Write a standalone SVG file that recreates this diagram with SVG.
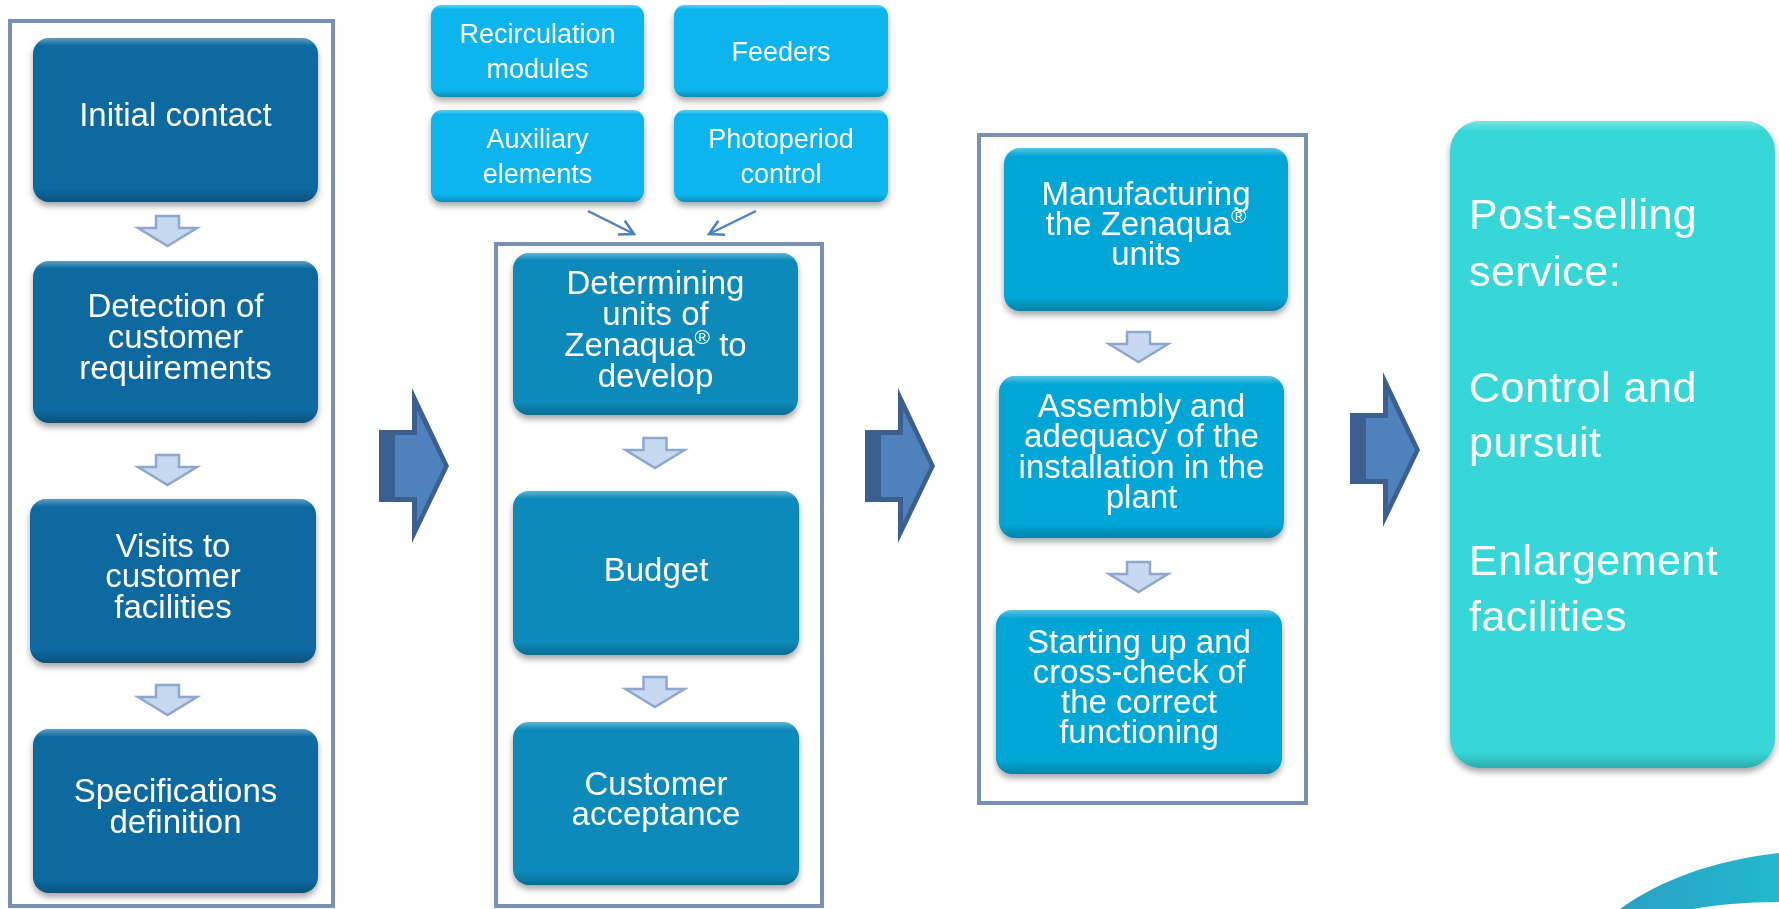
<svg xmlns="http://www.w3.org/2000/svg" width="1779" height="909" viewBox="0 0 1779 909">
<style>
.frame{fill:#fff;stroke:#7990b3;stroke-width:4}
.b1{fill:#0969a0}.b2{fill:#0889ba}.b3{fill:#05a6d6}.b4{fill:#09b5ee}.b5{fill:#38d7d7}
.bev{fill:url(#bevel)}
.t{font-family:"Liberation Sans",Arial,sans-serif;font-size:33px;fill:#fff;text-anchor:middle}
.ts{font-family:"Liberation Sans",Arial,sans-serif;font-size:27px;fill:#fff;text-anchor:middle}
.tr{font-family:"Liberation Sans",Arial,sans-serif;font-size:43px;fill:#fff;letter-spacing:0.5px}
.darr{fill:#c6d9f0;stroke:#8ea7cc;stroke-width:2.5;stroke-linejoin:miter}
.thin{stroke:#4f81bd;stroke-width:2.5;fill:none}
.bigd{fill:#3b5f8f}.bigl{fill:#4f81bd}
</style>
<defs>
<linearGradient id="bevel" x1="0" y1="0" x2="0" y2="1">
<stop offset="0" stop-color="#fff" stop-opacity="0.35"/>
<stop offset="0.05" stop-color="#fff" stop-opacity="0"/>
<stop offset="0.92" stop-color="#000" stop-opacity="0"/>
<stop offset="1" stop-color="#000" stop-opacity="0.22"/>
</linearGradient>
<linearGradient id="bevel2" x1="0" y1="0" x2="0" y2="1">
<stop offset="0" stop-color="#fff" stop-opacity="0.35"/>
<stop offset="0.015" stop-color="#fff" stop-opacity="0"/>
<stop offset="0.975" stop-color="#000" stop-opacity="0"/>
<stop offset="1" stop-color="#000" stop-opacity="0.2"/>
</linearGradient>
<linearGradient id="sw" x1="0" y1="0" x2="1" y2="0">
<stop offset="0" stop-color="#2aa0c3"/>
<stop offset="1" stop-color="#22b8cd"/>
</linearGradient>
<filter id="sh" x="-10%" y="-10%" width="120%" height="130%">
<feDropShadow dx="0" dy="4" stdDeviation="3" flood-color="#000" flood-opacity="0.35"/>
</filter>
<path id="down" d="M-11.5,0 H11.5 V12 H29.5 L0,30 L-29.5,12 H-11.5 Z"/>
<marker id="open" viewBox="0 0 14 14" refX="12" refY="7" markerWidth="18" markerHeight="18" markerUnits="userSpaceOnUse" orient="auto">
<path d="M1,1 L12,7 L1,13" fill="none" stroke="#4f81bd" stroke-width="2"/>
</marker>
</defs>

<rect width="1779" height="909" fill="#fff"/>

<!-- containers -->
<g id="container1"><rect class="frame" x="10" y="21" width="323" height="885"/></g>
<g id="container2"><rect class="frame" x="496" y="244" width="326" height="662"/></g>
<g id="container3"><rect class="frame" x="979" y="135" width="327" height="668"/></g>

<!-- left column -->
<g id="initial-contact" filter="url(#sh)">
<rect class="b1" x="33" y="38" width="285" height="164" rx="16"/>
<rect class="bev" x="33" y="38" width="285" height="164" rx="16"/>
<text class="t" x="175.5" y="126">Initial contact</text>
</g>
<g id="detection" filter="url(#sh)">
<rect class="b1" x="33" y="261" width="285" height="162" rx="16"/>
<rect class="bev" x="33" y="261" width="285" height="162" rx="16"/>
<text class="t" x="175.5" y="317">Detection of</text>
<text class="t" x="175.5" y="348">customer</text>
<text class="t" x="175.5" y="379">requirements</text>
</g>
<g id="visits" filter="url(#sh)">
<rect class="b1" x="30" y="499" width="286" height="164" rx="16"/>
<rect class="bev" x="30" y="499" width="286" height="164" rx="16"/>
<text class="t" x="173" y="556.5">Visits to</text>
<text class="t" x="173" y="587">customer</text>
<text class="t" x="173" y="617.5">facilities</text>
</g>
<g id="specifications" filter="url(#sh)">
<rect class="b1" x="33" y="729" width="285" height="164" rx="16"/>
<rect class="bev" x="33" y="729" width="285" height="164" rx="16"/>
<text class="t" x="175.5" y="802">Specifications</text>
<text class="t" x="175.5" y="833">definition</text>
</g>

<!-- top small boxes -->
<g id="recirculation" filter="url(#sh)">
<rect class="b4" x="431" y="5" width="213" height="92" rx="11"/>
<rect class="bev" x="431" y="5" width="213" height="92" rx="11"/>
<text class="ts" x="537.5" y="43">Recirculation</text>
<text class="ts" x="537.5" y="78">modules</text>
</g>
<g id="feeders" filter="url(#sh)">
<rect class="b4" x="674" y="5" width="214" height="92" rx="11"/>
<rect class="bev" x="674" y="5" width="214" height="92" rx="11"/>
<text class="ts" x="781" y="61">Feeders</text>
</g>
<g id="auxiliary" filter="url(#sh)">
<rect class="b4" x="431" y="110" width="213" height="92" rx="11"/>
<rect class="bev" x="431" y="110" width="213" height="92" rx="11"/>
<text class="ts" x="537.5" y="148">Auxiliary</text>
<text class="ts" x="537.5" y="183">elements</text>
</g>
<g id="photoperiod" filter="url(#sh)">
<rect class="b4" x="674" y="110" width="214" height="92" rx="11"/>
<rect class="bev" x="674" y="110" width="214" height="92" rx="11"/>
<text class="ts" x="781" y="148">Photoperiod</text>
<text class="ts" x="781" y="183">control</text>
</g>

<!-- middle column -->
<g id="determining" filter="url(#sh)">
<rect class="b2" x="513" y="253" width="285" height="162" rx="16"/>
<rect class="bev" x="513" y="253" width="285" height="162" rx="16"/>
<text class="t" x="655.5" y="294">Determining</text>
<text class="t" x="655.5" y="325">units of</text>
<text class="t" x="655.5" y="356">Zenaqua<tspan font-size="21" dy="-12">®</tspan><tspan dy="12"> to</tspan></text>
<text class="t" x="655.5" y="387">develop</text>
</g>
<g id="budget" filter="url(#sh)">
<rect class="b2" x="513" y="491" width="286" height="164" rx="16"/>
<rect class="bev" x="513" y="491" width="286" height="164" rx="16"/>
<text class="t" x="656" y="581">Budget</text>
</g>
<g id="acceptance" filter="url(#sh)">
<rect class="b2" x="513" y="722" width="286" height="163" rx="16"/>
<rect class="bev" x="513" y="722" width="286" height="163" rx="16"/>
<text class="t" x="656" y="795">Customer</text>
<text class="t" x="656" y="825">acceptance</text>
</g>

<!-- third column -->
<g id="manufacturing" filter="url(#sh)">
<rect class="b3" x="1004" y="148" width="284" height="163" rx="16"/>
<rect class="bev" x="1004" y="148" width="284" height="163" rx="16"/>
<text class="t" x="1146" y="205">Manufacturing</text>
<text class="t" x="1146" y="235">the Zenaqua<tspan font-size="21" dy="-12">®</tspan></text>
<text class="t" x="1146" y="265">units</text>
</g>
<g id="assembly" filter="url(#sh)">
<rect class="b3" x="999" y="376" width="285" height="162" rx="16"/>
<rect class="bev" x="999" y="376" width="285" height="162" rx="16"/>
<text class="t" x="1141.5" y="417">Assembly and</text>
<text class="t" x="1141.5" y="447">adequacy of the</text>
<text class="t" x="1141.5" y="478">installation in the</text>
<text class="t" x="1141.5" y="508">plant</text>
</g>
<g id="starting" filter="url(#sh)">
<rect class="b3" x="996" y="610" width="286" height="164" rx="16"/>
<rect class="bev" x="996" y="610" width="286" height="164" rx="16"/>
<text class="t" x="1139" y="653">Starting up and</text>
<text class="t" x="1139" y="683">cross-check of</text>
<text class="t" x="1139" y="713">the correct</text>
<text class="t" x="1139" y="743">functioning</text>
</g>

<!-- post-selling -->
<g id="post-selling" filter="url(#sh)">
<rect class="b5" x="1450" y="121" width="325" height="647" rx="30"/>
<rect fill="url(#bevel2)" x="1450" y="121" width="325" height="647" rx="30"/>
<text class="tr" x="1469" y="229">Post-selling</text>
<text class="tr" x="1469" y="286">service:</text>
<text class="tr" x="1469" y="402">Control and</text>
<text class="tr" x="1469" y="457">pursuit</text>
<text class="tr" x="1469" y="575">Enlargement</text>
<text class="tr" x="1469" y="631">facilities</text>
</g>

<!-- connectors -->
<g id="connectors">
<use href="#down" class="darr" x="167.5" y="216"/>
<use href="#down" class="darr" x="167.5" y="455"/>
<use href="#down" class="darr" x="167.5" y="685"/>
<use href="#down" class="darr" x="655" y="438"/>
<use href="#down" class="darr" x="655" y="677"/>
<use href="#down" class="darr" x="1138.5" y="332"/>
<use href="#down" class="darr" x="1138.5" y="562"/>
<line class="thin" x1="588" y1="211" x2="634" y2="234" marker-end="url(#open)"/>
<line class="thin" x1="756" y1="211" x2="709" y2="234" marker-end="url(#open)"/>
<g id="big-arrow-1">
<polygon class="bigd" points="379,430 412,430 412,388 449,466 412,543 412,502 379,502"/>
<polygon class="bigl" points="395,435 417,435 417,410 444,466 417,522 417,497 395,497"/>
</g>
<g id="big-arrow-2">
<polygon class="bigd" points="865,430 898,430 898,388 935,466 898,543 898,502 865,502"/>
<polygon class="bigl" points="881,435 903,435 903,410 930,466 903,522 903,497 881,497"/>
</g>
<g id="big-arrow-3">
<polygon class="bigd" points="1350,413 1383,413 1383,372 1420,450 1383,527 1383,484 1350,484"/>
<polygon class="bigl" points="1366,418 1388,418 1388,394 1415,450 1388,506 1388,479 1366,479"/>
</g>
</g>

<path id="swoosh" d="M1620,909 C1660,880 1715,860 1779,853 L1779,902 C1745,902 1715,905 1693,909 Z" fill="url(#sw)"/>
</svg>
